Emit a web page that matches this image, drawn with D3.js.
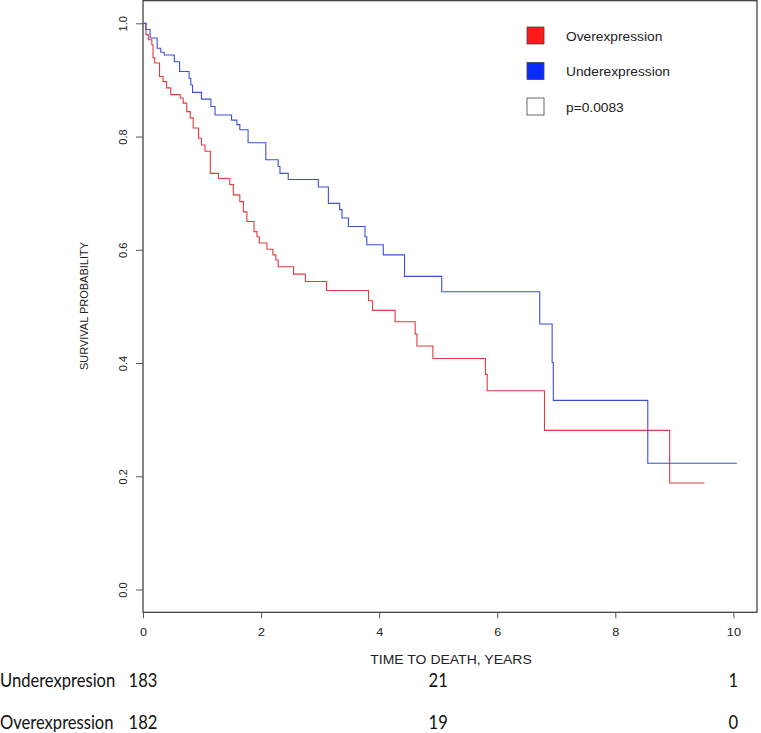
<!DOCTYPE html>
<html><head><meta charset="utf-8">
<script src="https://cdn.jsdelivr.net/npm/d3@7"></script>
<style>body{margin:0;background:#fff}svg{display:block}</style>
</head><body><svg id="c" width="761" height="733"></svg>
<script>
// Kaplan-Meier step points: [time in years, survival]
const underTimes = [0,0.05,0.12,0.24,0.30,0.36,0.53,0.62,0.78,0.81,0.84,0.99,1.15,1.22,1.50,1.59,1.64,1.78,2.08,2.29,2.32,2.46,2.97,3.14,3.33,3.37,3.48,3.76,3.79,4.07,4.43,5.06,6.72,6.93,6.95,8.55];
const underSurv  = [1.0,0.989,0.974,0.956,0.949,0.944,0.932,0.915,0.903,0.891,0.878,0.866,0.853,0.838,0.829,0.821,0.812,0.789,0.759,0.747,0.735,0.724,0.711,0.682,0.671,0.656,0.641,0.623,0.609,0.591,0.553,0.526,0.469,0.401,0.334,0.223];
const underEnd = 10.06;
const overTimes = [0,0.05,0.09,0.15,0.17,0.20,0.28,0.34,0.40,0.47,0.63,0.68,0.74,0.80,0.85,0.94,0.99,1.05,1.14,1.28,1.47,1.53,1.64,1.70,1.76,1.88,1.93,1.97,2.10,2.20,2.25,2.29,2.55,2.75,3.11,3.82,3.89,4.27,4.61,4.64,4.91,5.80,5.83,6.80,8.92];
const overSurv  = [1.0,0.98,0.971,0.962,0.939,0.930,0.906,0.897,0.886,0.874,0.868,0.859,0.844,0.833,0.815,0.797,0.785,0.774,0.735,0.726,0.715,0.697,0.685,0.667,0.650,0.632,0.623,0.612,0.601,0.591,0.582,0.570,0.557,0.544,0.528,0.510,0.493,0.473,0.451,0.430,0.408,0.380,0.351,0.281,0.188];
const overEnd = 9.51;
const xTicks = [0,2,4,6,8,10];
const yTicks = [0,0.2,0.4,0.6,0.8,1.0];
const legendLabels = ["Overexpression","Underexpression","p=0.0083"];
const riskGroups = ["Underexpresion","Overexpression"];
const riskTimes = [0,5,10];
const riskUnder = [183,21,1];
const riskOver = [182,19,0];

const svg = d3.select("#c");
const x = d3.scaleLinear().domain([0,10.4]).range([143,757]);
const y = d3.scaleLinear().domain([0,1]).range([589.5,23.3]);
const font = "'Liberation Sans', Arial, sans-serif";

// box
svg.append("rect").attr("x",143).attr("y",0.7).attr("width",757-143).attr("height",612.3-0.7)
  .attr("fill","none").attr("stroke","#333").attr("stroke-width",1.2);

// x axis
const xa = svg.append("g").attr("transform","translate(0,612.3)")
  .call(d3.axisBottom(x).tickValues(xTicks).tickSize(6).tickPadding(10).tickFormat(d3.format("d")));
xa.select(".domain").remove();
xa.selectAll("line").attr("stroke","#555");
xa.selectAll("text").attr("font-family",font).attr("font-size",11.5).attr("fill","#222")
  .attr("transform","scale(1.1,1)");

// y axis
const ya = svg.append("g").attr("transform","translate(143,0)")
  .call(d3.axisLeft(y).tickValues(yTicks).tickSize(7).tickFormat(d3.format(".1f")));
ya.select(".domain").remove();
ya.selectAll("line").attr("stroke","#555");
ya.selectAll("text").attr("font-family",font).attr("font-size",11).attr("fill","#222")
  .attr("text-anchor","middle").attr("x",0).attr("dy",null)
  .attr("transform","translate(-20,0) rotate(-90)").attr("y",4);

svg.append("text").attr("transform","translate(88,306) rotate(-90)")
  .attr("text-anchor","middle").attr("font-family",font).attr("font-size",11).attr("fill","#222")
  .text("SURVIVAL PROBABILITY");
svg.append("text").attr("transform","translate(451,663.5) scale(1.12,1)").attr("text-anchor","middle")
  .attr("font-family",font).attr("font-size",12.5).attr("fill","#222").text("TIME TO DEATH, YEARS");

// curves
function stepPts(ts, ss, end){
  const pts = ts.map((t,i)=>[t,ss[i]]);
  pts.push([end, ss[ss.length-1]]);
  return pts;
}
const line = d3.line().x(d=>x(d[0])).y(d=>y(d[1])).curve(d3.curveStepAfter);
svg.append("path").datum(stepPts(overTimes,overSurv,overEnd)).attr("d",line)
  .attr("fill","none").attr("stroke","#e23a3f").attr("stroke-width",1.1);
svg.append("path").datum(stepPts(underTimes,underSurv,underEnd)).attr("d",line)
  .attr("fill","none").attr("stroke","#3d4fd6").attr("stroke-width",1.1);

// legend
const legFill = ["#ff1a1a","#0a2bff","#ffffff"];
const lg = svg.append("g");
legendLabels.forEach((lab,i)=>{
  const yy = 27 + i*35.5;
  lg.append("rect").attr("x",527).attr("y",yy).attr("width",17).attr("height",17)
    .attr("fill",legFill[i]).attr("stroke","#444").attr("stroke-width",0.8);
  lg.append("text").attr("transform",`translate(566,${yy+13.5}) scale(1.06,1)`)
    .attr("font-family",font).attr("font-size",13).attr("fill","#222").text(lab);
});

// risk table
const rfont = "Lato, 'Open Sans', sans-serif";
[riskUnder, riskOver].forEach((vals,r)=>{
  const by = 686.7 + r*42.5;
  svg.append("text").attr("transform",`translate(0,${by}) scale(0.85,1)`)
    .attr("font-family",rfont).attr("font-size",19.5).attr("fill","#111").text(riskGroups[r]);
  vals.forEach((v,i)=>{
    svg.append("text").attr("transform",`translate(${x(riskTimes[i])},${by}) scale(0.85,1)`)
      .attr("text-anchor","middle")
      .attr("font-family",rfont).attr("font-size",19.5).attr("fill","#111").text(v);
  });
});
</script></body></html>
